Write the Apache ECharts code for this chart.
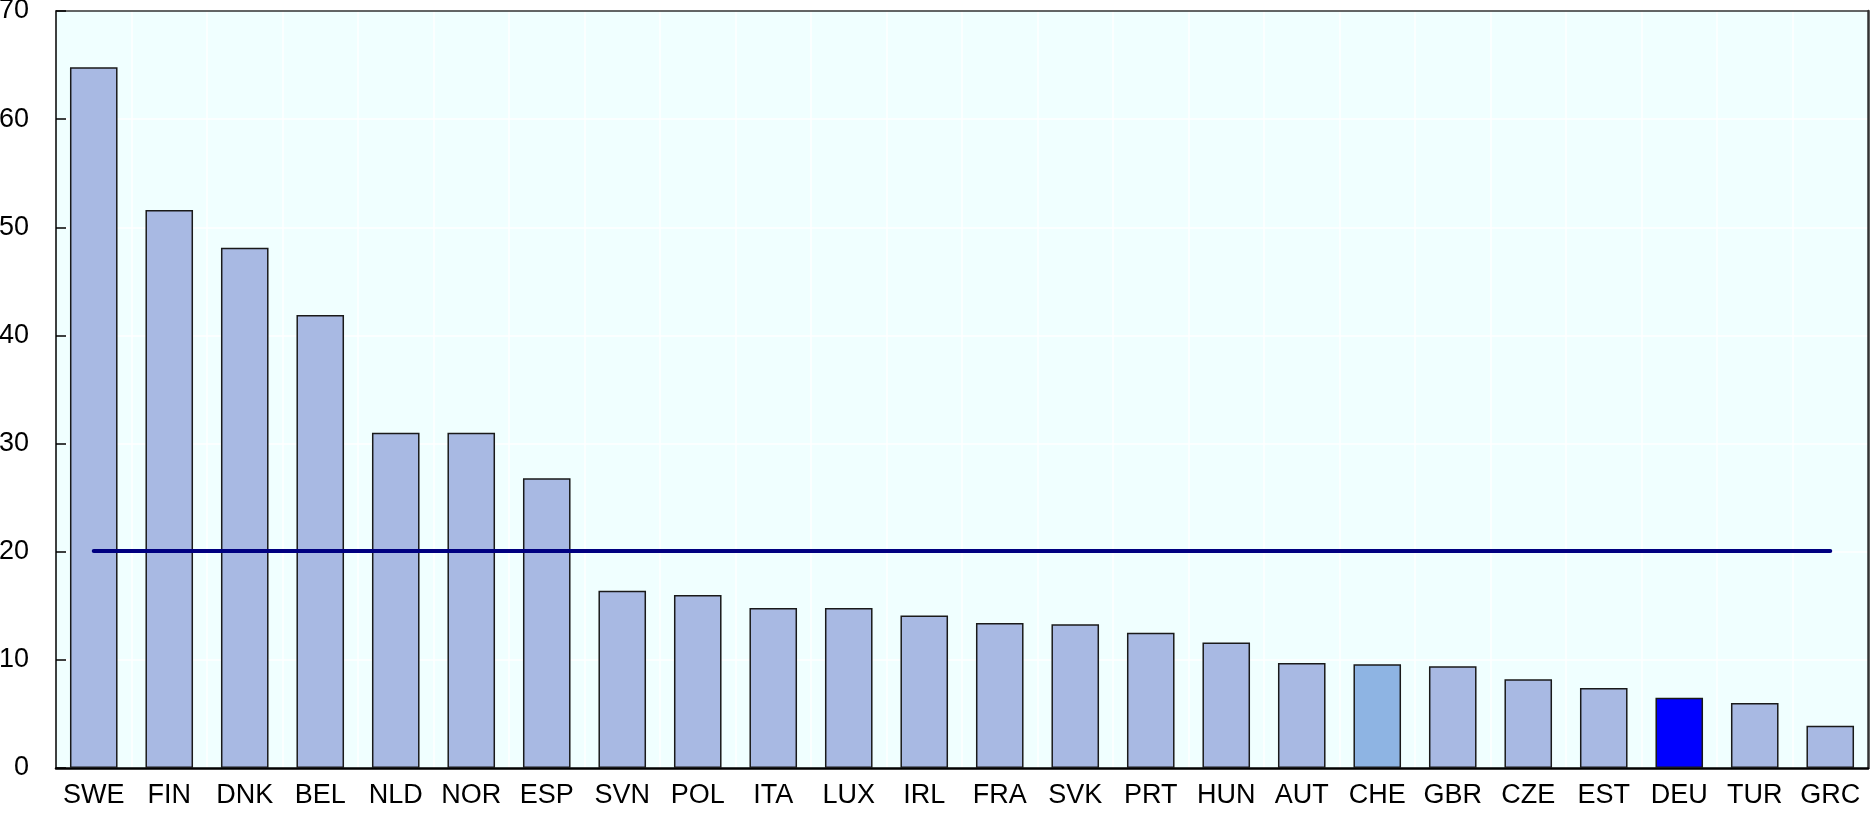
<!DOCTYPE html>
<html>
<head>
<meta charset="utf-8">
<script src="https://cdn.jsdelivr.net/npm/echarts@6/dist/echarts.min.js"></script>
<style>
html,body{margin:0;padding:0;background:#fff;}
#chart{width:1874px;height:821px;}
</style>
</head>
<body>
<div id="chart"></div>
<script>
const categories = ['SWE','FIN','DNK','BEL','NLD','NOR','ESP','SVN','POL','ITA','LUX','IRL','FRA','SVK','PRT','HUN','AUT','CHE','GBR','CZE','EST','DEU','TUR','GRC'];
const values = [64.8,51.6,48.1,41.9,31.0,31.0,26.8,16.4,16.0,14.8,14.8,14.1,13.4,13.3,12.5,11.6,9.7,9.6,9.4,8.2,7.4,6.5,6.0,3.9];
const averageValue = 20.1;
const yTicks = [0,10,20,30,40,50,60,70];

const baseColor = '#a8b9e3';
const highlight = {CHE:'#8eb4e3', DEU:'#0000ff'};
const FONT = '"Liberation Sans", Arial, sans-serif';

const chart = echarts.init(document.getElementById('chart'), null, {renderer:'canvas'});
chart.setOption({
  animation:false,
  grid:{left:56,right:6,top:11,bottom:53,containLabel:false,outerBoundsMode:'none',show:true,backgroundColor:'#f0ffff',borderColor:'#f0ffff',borderWidth:0},
  xAxis:[{
    type:'category',
    data:categories,
    axisLine:{show:true,onZero:false,lineStyle:{color:'#000',width:2.5}},
    axisTick:{show:false},
    splitLine:{show:true,interval:0,showMinLine:false,showMaxLine:false,lineStyle:{color:'#ffffff',width:1.5}},
    axisLabel:{interval:0,color:'#000',fontSize:27,fontFamily:FONT,margin:14}
  },{
    type:'category',
    position:'top',
    data:categories,
    axisLine:{show:true,onZero:false,lineStyle:{color:'#333',width:1.5}},
    axisTick:{show:false},
    axisLabel:{show:false},
    splitLine:{show:false}
  }],
  yAxis:[{
    type:'value',
    min:yTicks[0],max:yTicks[yTicks.length-1],interval:10,
    axisLine:{show:true,onZero:false,lineStyle:{color:'#000',width:1.5}},
    axisTick:{show:true,inside:true,length:10,lineStyle:{color:'#000',width:1.5}},
    splitLine:{show:true,showMinLine:false,showMaxLine:false,lineStyle:{color:'#ffffff',width:1.5}},
    axisLabel:{color:'#000',fontSize:27,fontFamily:FONT,margin:27}
  },{
    type:'value',
    position:'right',
    min:yTicks[0],max:yTicks[yTicks.length-1],interval:10,
    axisLine:{show:true,onZero:false,lineStyle:{color:'#333',width:2.5}},
    axisTick:{show:false},
    axisLabel:{show:false},
    splitLine:{show:false}
  }],
  series:[{
    type:'bar',
    barWidth:'63%',
    data:values.map((v,i)=>({value:v,itemStyle:{color:highlight[categories[i]]||baseColor}})),
    itemStyle:{borderColor:'#1a1a1a',borderWidth:1.5},
    markLine:{
      silent:true,symbol:['none','none'],
      label:{show:false},
      lineStyle:{color:'#000080',width:4,type:'solid',cap:'round'},
      data:[[{coord:[categories[0],averageValue]},{coord:[categories[categories.length-1],averageValue]}]]
    }
  }]
});
</script>
</body>
</html>
